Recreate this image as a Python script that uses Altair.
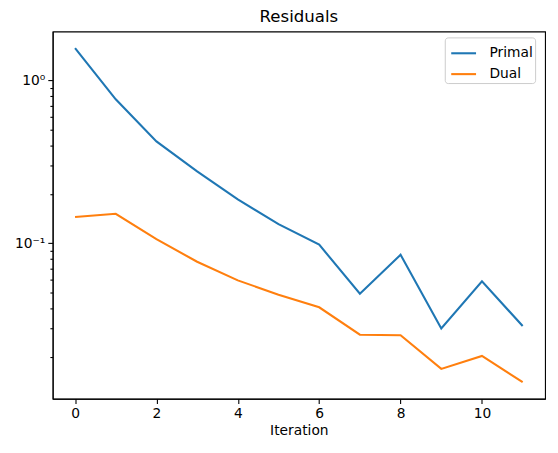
import altair as alt
import pandas as pd

iterations = list(range(12))
primal = [1.58, 0.766, 0.422, 0.276, 0.186, 0.131, 0.098, 0.0489, 0.0849, 0.0299, 0.0583, 0.0310]
dual = [0.145, 0.1516, 0.106, 0.0769, 0.0591, 0.0483, 0.0404, 0.0274, 0.0272, 0.0169, 0.0203, 0.0140]
series_names = ["Primal", "Dual"]
colors = ["#1f77b4", "#ff7f0e"]

x_ticks = [0, 2, 4, 6, 8, 10]
y_ticks = [0.02, 0.03, 0.04, 0.05, 0.06, 0.07, 0.08, 0.09,
           0.1, 0.2, 0.3, 0.4, 0.5, 0.6, 0.7, 0.8, 0.9, 1.0]

df = pd.DataFrame({
    "Iteration": iterations * 2,
    "value": primal + dual,
    "series": [series_names[0]] * len(primal) + [series_names[1]] * len(dual),
})

FONT = "DejaVu Sans"

chart = alt.Chart(df).mark_line(strokeWidth=2.1).encode(
    x=alt.X("Iteration:Q",
            scale=alt.Scale(domain=[-0.55, 11.55], nice=False, zero=False),
            axis=alt.Axis(values=x_ticks, title="Iteration", grid=False,
                          tickSize=4.9, tickWidth=1.1, tickColor="black",
                          domainColor="black", domainWidth=1.1,
                          labelFontSize=13.9, labelColor="black", labelPadding=3,
                          titleFontSize=13.9, titleFontWeight="normal", titleColor="black",
                          titlePadding=3, labelFont=FONT, titleFont=FONT)),
    y=alt.Y("value:Q",
            scale=alt.Scale(type="log", domain=[0.01108, 2.0], nice=False),
            axis=alt.Axis(values=y_ticks, title=None, grid=False,
                          labelExpr="datum.value == 1 ? '10⁰' : (abs(datum.value - 0.1) < 1e-9 ? '10⁻¹' : '')",
                          tickSize={"condition": {"test": "datum.value == 1 || abs(datum.value - 0.1) < 1e-9", "value": 4.9}, "value": 2.8},
                          tickWidth=1.1, tickColor="black",
                          domainColor="black", domainWidth=1.1,
                          labelFontSize=13.9, labelColor="black", labelPadding=3,
                          labelFont=FONT)),
    color=alt.Color("series:N",
                    scale=alt.Scale(domain=series_names, range=colors),
                    sort=series_names,
                    legend=alt.Legend(title=None, orient="none", legendX=395, legendY=6,
                                      symbolType="stroke", symbolSize=625, symbolStrokeWidth=2.1,
                                      symbolOffset=3,
                                      labelExpr="datum.label + '\u00a0\u00a0'",
                                      labelFontSize=13.9, labelFont=FONT, labelColor="black",
                                      strokeColor="#cccccc", fillColor="white", cornerRadius=3,
                                      padding=2, rowPadding=-5, labelOffset=12)),
).properties(
    width=496,
    height=370,
    title=alt.Title("Residuals", fontSize=16.7, font=FONT, fontWeight="normal", color="black", offset=6),
    autosize=alt.AutoSizeParams(type="none"),
    padding={"left": 45, "top": 22, "right": 5, "bottom": 45},
).configure_view(stroke="black", strokeWidth=1.1)

chart.save("out.html", embed_options={"renderer": "svg", "actions": False})
